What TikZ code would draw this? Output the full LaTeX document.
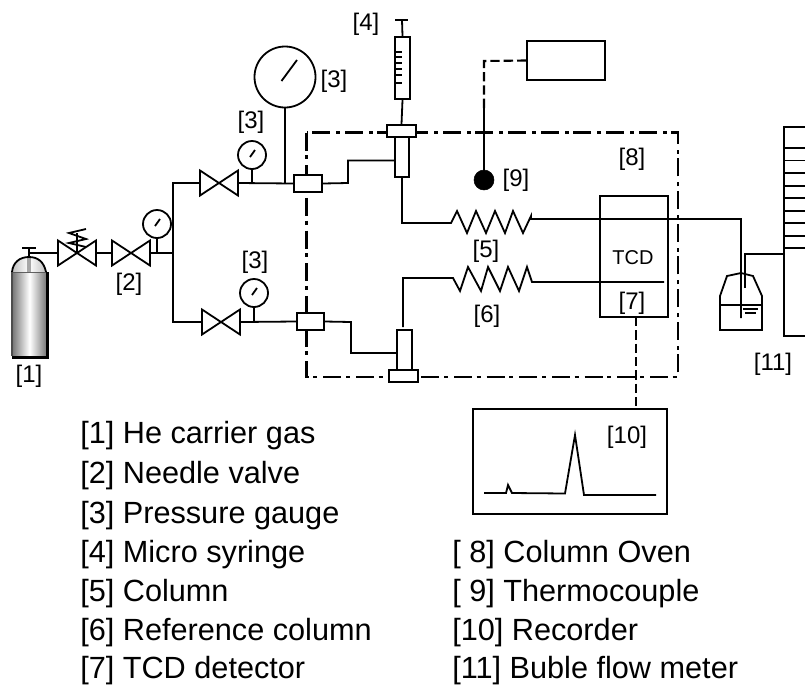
\documentclass[tikz,border=0pt]{standalone}
\usepackage{fontspec}
\setmainfont{Liberation Sans}
\tikzset{
	pipe/.style={line width=1.35pt},
	signal/.style={line width=1.6pt,dashed,dash pattern=on 7pt off 3pt},
	oven/.style={line width=1.9pt,dash pattern=on 13.5pt off 3.5pt on 3pt off 4.5pt},
	part/.style 2 args={draw,fill=white,line width=1.35pt,inner sep=0pt,minimum width=#1*.75pt,minimum height=#2*.75pt},
	gauge/.style={draw,fill=white,circle,line width=1.35pt,inner sep=0pt,minimum size=#1*.75pt},
	tag/.style={font=\fontsize{18}{20}\selectfont,inner sep=0pt},
	legend/.style={font=\fontsize{23}{26}\selectfont,inner sep=0pt,anchor=base west},
}
\begin{document}
\begin{tikzpicture}[x=.75pt,y=-.75pt]
	\useasboundingbox (0,0) rectangle (805,686);

	% oven
	\draw[oven] (306.5,132.5) rectangle (678,377);

	% cylinder
	\shade[left color=black!55,right color=black!55,middle color=white] (12,272) rectangle (47,356);
	\draw[pipe,black!70] (12,356) -- (12,272);
	\draw[line width=.8pt,black!70] (12,272) -- (47,272);
	\draw[line width=2.2pt] (47.5,272) -- (47.5,357.5) -- (11.5,357.5);
	\shade[left color=black!25,right color=black!25,middle color=white] (12,272) .. controls (13,262) and (20,257) .. (29,257) .. controls (38,257) and (44,262) .. (46,272) -- cycle;
	\fill[black!35] (27,258) rectangle (31,272);
	\draw[pipe] (12,272) .. controls (13,262) and (20,257) .. (29,257) .. controls (38,257) and (44,262) .. (46,272);
	\coordinate (head) at (29,253);
	\draw[pipe] (29,257) -- (29,248);
	\draw[pipe] (22,248) -- (36,248);

	% valves
	\foreach \x/\y in {58/253,112/253,200/183,202/322}{
		\draw[pipe] (\x,\y-12.5) -- (\x+38,\y+12.5) -- (\x+38,\y-12.5) -- (\x,\y+12.5) -- cycle;
	}
	\draw[pipe] (77,253) -- (77,233);
	\draw[pipe] (86,229) -- (69,233) -- (86,239) -- (69,243) -- (86,247);

	% gas lines
	\draw[pipe] (head) -- (58,253);
	\draw[pipe] (96,253) -- (112,253);
	\draw[pipe] (150,253) -- (173,253);
	\draw[pipe] (200,183) -- (173,183) -- (173,322) -- (202,322);

	% gauges
	\node[gauge=28] (gA) at (157,224){};
	\node[gauge=28] (gB) at (252,155){};
	\node[gauge=28] (gC) at (254,293){};
	\node[gauge=61] (gD) at (285,77){};
	\draw[pipe] (gA.south) -- (gA.south |- 0,253);
	\draw[pipe] (gB.south) -- (gB.south |- 0,183);
	\draw[pipe] (gC.south) -- (gC.south |- 0,322);
	\draw[pipe] (gD.south) -- (gD.south |- 0,183);
	\foreach \g in {gA,gB,gC}{
		\draw[pipe] (\g.center) ++(-2,2) -- ++(5,-7);
	}
	\draw[pipe] (281.5,81) -- (297,60);

	% fittings
	\node[part={28}{17}] (fitA) at (308,183.5){};
	\node[part={27}{17}] (fitB) at (310.5,321.5){};
	\draw[pipe] (239,183) -- (fitA.west);
	\draw[pipe] (241,322) -- (fitB.west);

	% injector and syringe
	\node[part={14}{42}] (injA) at (402,156){};
	\node[part={29}{12}] (flangeA) at (401.5,131){};
	\node[part={15}{62}] (syringe) at (402.5,68){};
	\node[part={15}{42}] (injB) at (404.5,351){};
	\node[part={29}{12}] (flangeB) at (403.5,376){};
	\draw[pipe] (syringe.south) -- (flangeA.north);
	\draw[pipe] (syringe.north) -- (402,20);
	\draw[pipe] (395,20) -- (408,20);
	\foreach \y in {52,57,63,69,75,83}{
		\draw[pipe] (395,\y) -- (402,\y);
	}
	\draw[pipe] (fitA.east) -- (348,183) -- (348,160.5) -- (injA.west |- 0,160.5);
	\draw[pipe] (fitB.east) -- (351,322) -- (351,353) -- (injB.west |- 0,353);

	% columns
	\draw[pipe] (injA.south) -- (402,223) -- (451,223) -- (457,211) -- (467,233) -- (476,211) -- (486,233) -- (495,211) -- (505,233) -- (513,211) -- (523,233) -- (531,216) -- (531,219) -- (741,219) -- (741,318);
	\draw[pipe] (403,327) -- (403,278) -- (453,278) -- (460,291) -- (468,267) -- (481,291) -- (488,267) -- (500,291) -- (508,267) -- (519,291) -- (527,267) -- (532,282) -- (664,282);

	% thermocouple
	\node[draw,fill=black,circle,inner sep=0pt,minimum size=15pt] (tc) at (484,180){};
	\node[part={78}{39}] (tcbox) at (566,60.5){};
	\coordinate (tcjoin) at (484,108);
	\draw[pipe] (tc) -- (tcjoin);
	\draw[signal] (tcjoin) -- (484,61) -- (tcbox.west);

	% detector and recorder
	\node[draw,line width=1.35pt,inner sep=0pt,minimum width=51pt,minimum height=91pt] (tcd) at (634,256.5){};
	\node[part={194}{105}] (rec) at (570,461.5){};
	\draw[signal] (636,317) -- (636,409);
	\draw[pipe] (484,493) -- (506,493) -- (508,485) -- (512,493) -- (565,493.5) -- (575,435) -- (584,495) -- (656,495);

	% bubble flow meter
	\draw[pipe] (720,305) -- (720,296) -- (727,276) -- (741,273) -- (753,276) -- (762,296) -- (762,305);
	\draw[pipe] (720,305) rectangle (762,330);
	\draw[pipe] (745,288) -- (745,254) -- (784,254);
	\draw[pipe] (743,309) -- (758,309);
	\draw[pipe] (745,313) -- (756,313);
	\draw[pipe] (805,127) -- (784,127) -- (784,336) -- (805,336);
	\foreach \y in {148,160.5,173,186,198,211,223,236,248}{
		\draw[pipe] (784,\y) -- (805,\y);
	}

	% labels
	\node[tag] (l1) at (29,376){[1]};
	\node[tag] (l2) at (129,284){[2]};
	\node[tag] (l3a) at (334,81){[3]};
	\node[tag] (l3b) at (251,122){[3]};
	\node[tag] (l3c) at (255,262){[3]};
	\node[tag] (l4) at (366,24){[4]};
	\node[tag] (l5) at (486,251){[5]};
	\node[tag] (l6) at (487,316){[6]};
	\node[tag] (l7) at (632,303){[7]};
	\node[tag] (l8) at (632,159){[8]};
	\node[tag] (l9) at (516,180){[9]};
	\node[tag] (l10) at (627,437){[10]};
	\node[tag] (l11) at (773,364){[11]};
	\node[font=\fontsize{15}{18}\selectfont,inner sep=0pt] (tcdtext) at (633,258){TCD};

	% legend
	\node[legend] (k1) at (80,443){[1] He carrier gas};
	\node[legend] (k2) at (80,483){[2] Needle valve};
	\node[legend] (k3) at (80,523){[3] Pressure gauge};
	\node[legend] (k4) at (80,562){[4] Micro syringe};
	\node[legend] (k5) at (80,601){[5] Column};
	\node[legend] (k6) at (80,640){[6] Reference column};
	\node[legend] (k7) at (80,678.5){[7] TCD detector};
	\node[legend] (k8) at (452,562){[ 8] Column Oven};
	\node[legend] (k9) at (452,601){[ 9] Thermocouple};
	\node[legend] (k10) at (452,640){[10] Recorder};
	\node[legend] (k11) at (452,678.5){[11] Buble flow meter};
\end{tikzpicture}
\end{document}
